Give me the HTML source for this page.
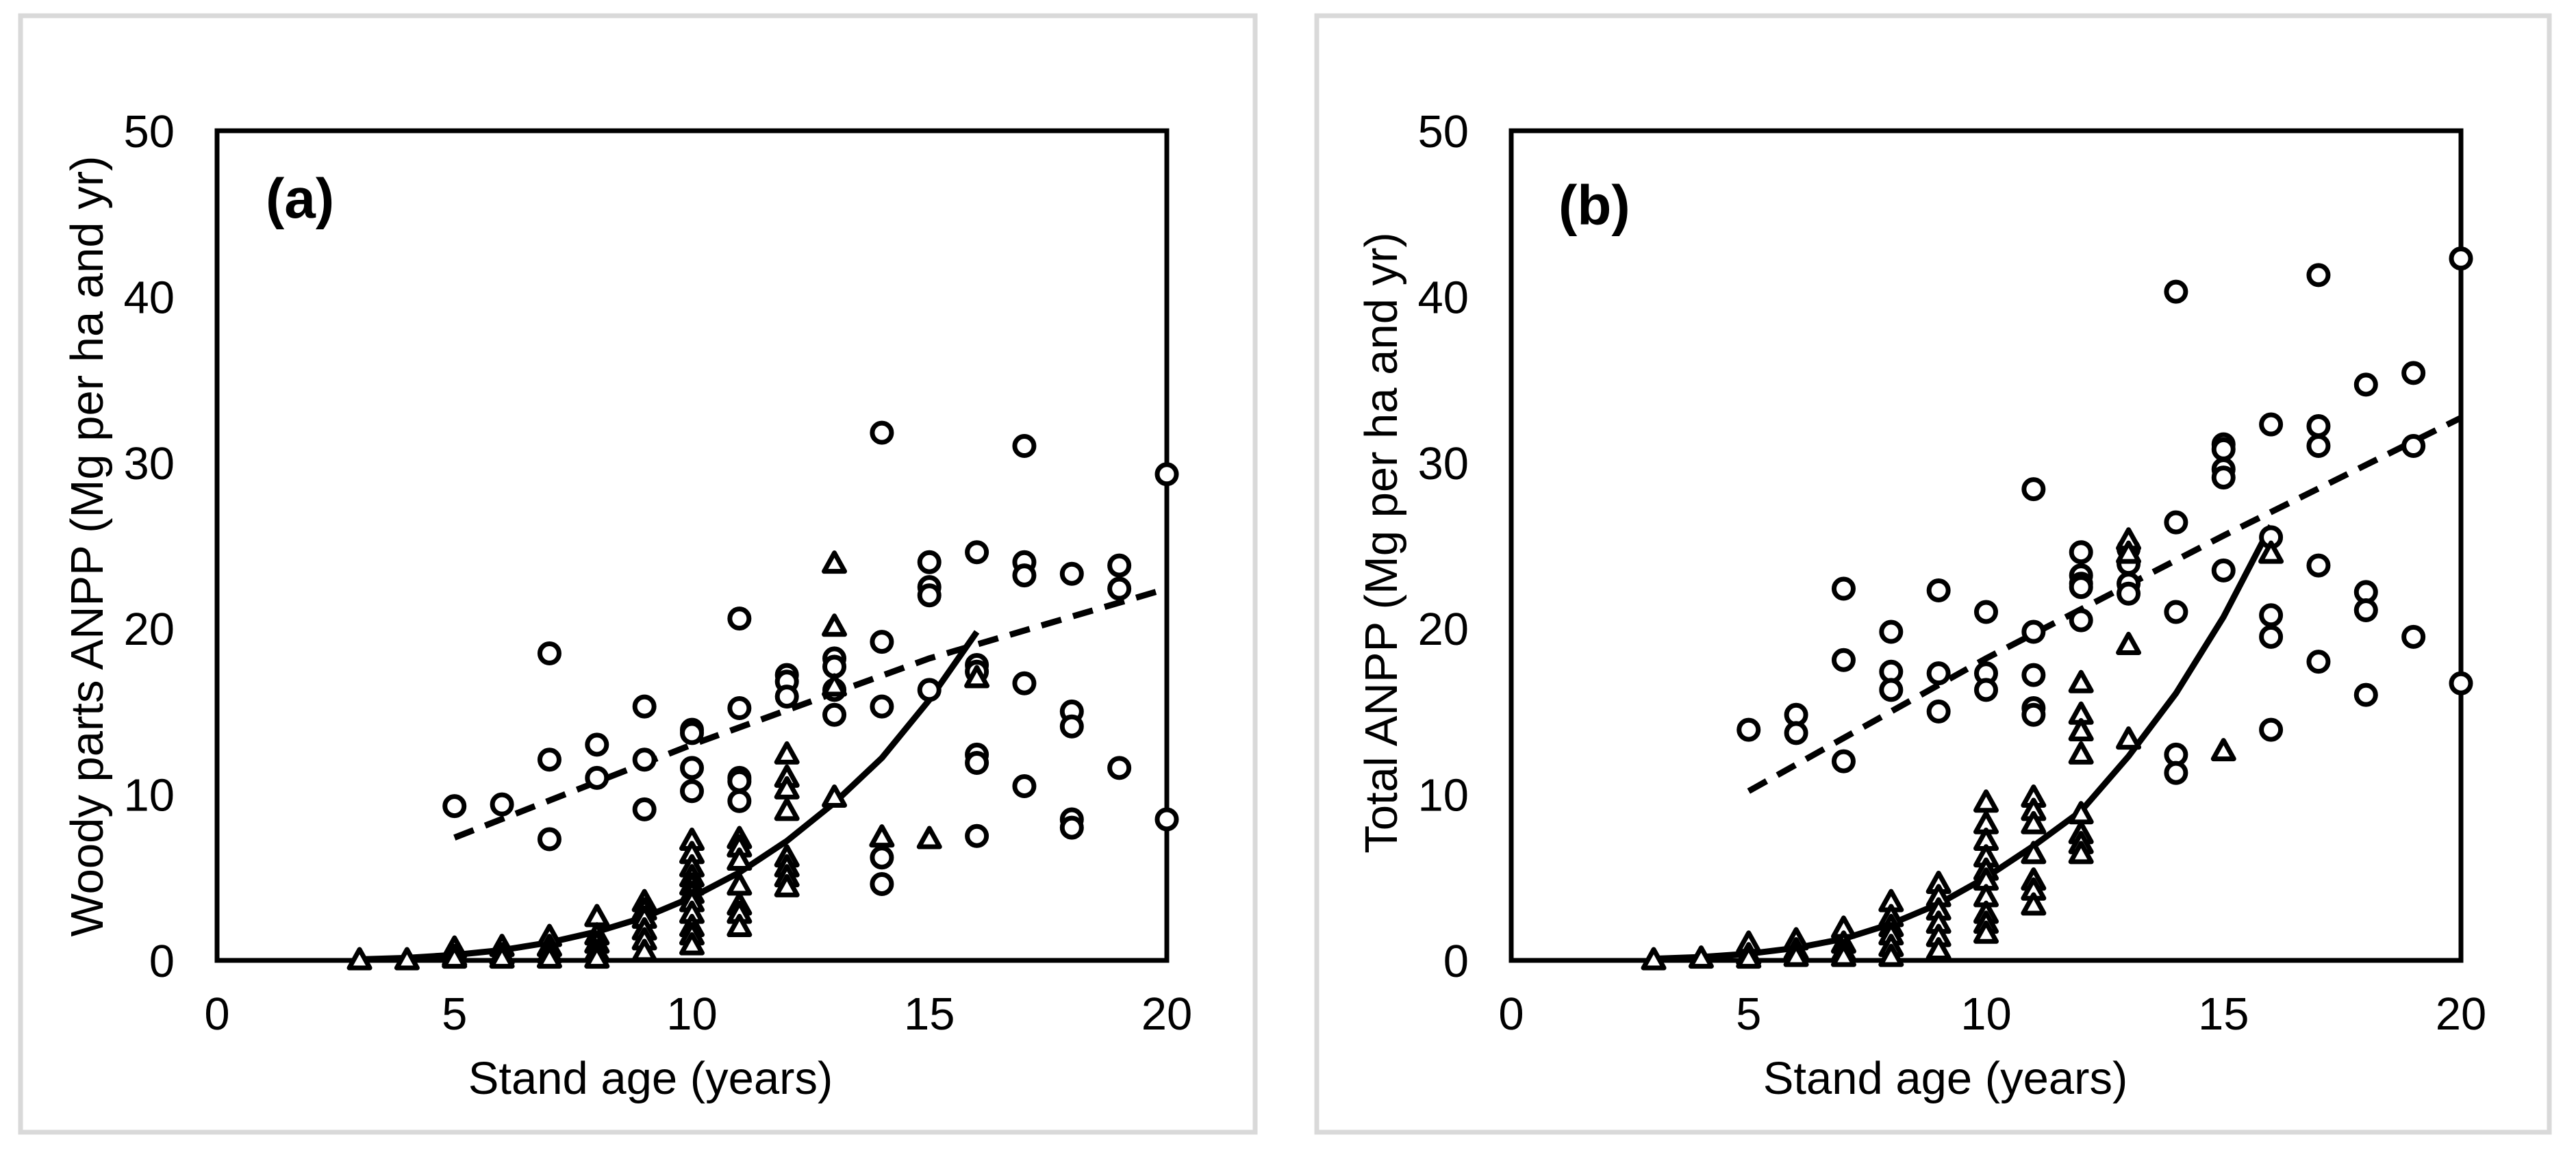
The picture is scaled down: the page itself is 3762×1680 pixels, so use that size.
<!DOCTYPE html>
<html><head><meta charset="utf-8"><style>
html,body{margin:0;padding:0;background:#fff;}
svg{display:block;font-family:"Liberation Sans",Arial,sans-serif;}
</style></head><body>
<svg id="fig" width="3762" height="1680" viewBox="0 0 3762 1680">
<rect x="30" y="23" width="1803" height="1631" fill="#fff" stroke="#d9d9d9" stroke-width="7"/>
<rect x="1923" y="23" width="1800" height="1631" fill="#fff" stroke="#d9d9d9" stroke-width="7"/>
<g id="pa"></g>
<g id="pb"></g>
</svg>
<script>
const xTicks = [0,5,10,15,20];
const yTicks = [0,10,20,30,40,50];
const fitX = [3,4,5,6,7,8,9,10,11,12,13,14,15,16];
const dashX = [5,10,15,20];

// Panel A data
const aCircX = [5,6,7,7,7,8,8,9,9,9,10,10,10,10,11,11,11,11,11,12,12,12,13,13,13,13,14,14,14,14,14,15,15,15,15,16,16,16,16,16,16,17,17,17,17,17,18,18,18,18,18,19,19,19,20,20];
const aCircY = [9.3,9.4,18.5,12.1,7.3,13.0,11.0,15.3,12.1,9.1,13.9,13.7,11.6,10.2,20.6,15.2,11.0,10.8,9.6,17.2,16.8,15.9,18.2,17.7,16.3,14.8,31.8,19.2,15.3,6.2,4.6,24.0,22.5,22.0,16.3,24.6,17.8,17.4,12.4,11.9,7.5,31.0,24.0,23.2,16.7,10.5,23.3,15.0,14.1,8.5,8.0,23.8,22.4,11.6,29.3,8.5];
const aTriX = [3,4,5,5,5,6,6,6,7,7,7,7,8,8,8,8,8,9,9,9,9,9,9,10,10,10,10,10,10,10,10,10,10,10,11,11,11,11,11,11,11,12,12,12,12,12,12,12,12,13,13,13,13,14,15,16];
const aTriY = [0,0,0.7,0.2,0.1,0.8,0.3,0.1,1.4,0.8,0.4,0.1,2.6,1.5,1.0,0.5,0.1,3.5,3.0,2.5,1.8,1.2,0.5,7.2,6.4,5.6,5.0,4.5,4.0,3.5,2.8,2.0,1.5,0.9,7.3,6.8,6.0,4.5,3.3,2.8,2.0,12.4,11.0,10.3,9.0,6.2,5.6,5.0,4.4,23.9,20.1,16.5,9.8,7.4,7.3,17.0];
const aFitY = [0.06,0.15,0.33,0.62,1.08,1.73,2.6,3.8,5.3,7.2,9.5,12.2,15.7,19.8];
const aDashY = [7.4,13.0,18.2,22.4];

// Panel B data
const bCircX = [5,6,6,7,7,7,8,8,8,9,9,9,10,10,10,11,11,11,11,11,12,12,12,12,12,13,13,13,13,14,14,14,14,14,15,15,15,15,15,16,16,16,16,16,17,17,17,17,17,18,18,18,18,19,19,19,20,20];
const bCircY = [13.9,14.8,13.7,22.4,18.1,12.0,19.8,17.4,16.3,22.3,17.3,15.0,21.0,17.3,16.3,28.4,19.8,17.2,15.2,14.8,24.6,23.2,22.7,22.5,20.5,24.8,23.9,22.7,22.1,40.3,26.4,21.0,12.4,11.3,31.1,30.8,29.6,29.1,23.5,32.3,25.5,20.8,19.5,13.9,41.3,32.2,31.0,23.8,18.0,34.7,22.2,21.1,16.0,35.4,31.0,19.5,42.3,16.7];
const bTriX = [3,4,5,5,5,6,6,6,7,7,7,7,8,8,8,8,8,8,9,9,9,9,9,9,10,10,10,10,10,10,10,10,10,10,11,11,11,11,11,11,11,12,12,12,12,12,12,12,12,13,13,13,13,15,16];
const bTriY = [0,0.1,1.0,0.3,0.1,1.2,0.6,0.2,1.9,1.0,0.5,0.2,3.5,2.6,2.0,1.5,0.8,0.2,4.6,3.8,3.0,2.2,1.4,0.6,9.5,8.2,7.2,6.2,5.4,4.8,3.8,2.8,2.2,1.6,9.8,9.0,8.2,6.4,4.8,4.2,3.3,16.7,14.8,13.8,12.4,8.8,7.6,7.0,6.4,25.3,24.5,19.0,13.3,12.6,24.5];
const bFitY = [0.1,0.2,0.4,0.75,1.3,2.2,3.4,5.0,6.9,9.0,12.3,16.1,20.7,26.2];
const bDashY = [10.2,18.2,25.6,32.7];

const NS = "http://www.w3.org/2000/svg";
function mk(parent, tag, attrs, text){
  const e = document.createElementNS(NS, tag);
  for (const k in attrs) e.setAttribute(k, attrs[k]);
  if (text !== undefined) e.textContent = text;
  parent.appendChild(e);
  return e;
}

function drawPanel(g, cfg){
  const L = cfg.left, R = cfg.left + 1387, T = 191, B = 1403;
  const sx = v => L + (v / 20) * (R - L);
  const sy = v => B - (v / 50) * (B - T);

  const frame = mk(g, 'rect', {x:L, y:T, width:R-L, height:B-T, fill:'none', stroke:'#000', 'stroke-width':7});
  
  

  xTicks.forEach(t => {
    const tx = mk(g, 'text', {x:sx(t), y:1504, 'font-size':67, 'text-anchor':'middle'}, String(t));
    
    
  });
  yTicks.forEach(t => {
    const ty = mk(g, 'text', {x:L-62, y:sy(t)+24, 'font-size':67, 'text-anchor':'end'}, String(t));
    
    
  });

  const xt = mk(g, 'text', {x:cfg.xTitleX, y:1598, 'font-size':67, 'text-anchor':'middle'}, 'Stand age (years)');
  
  
  const yt = mk(g, 'text', {x:0, y:0, 'font-size':67, 'text-anchor':'middle', transform:`translate(${cfg.yTitleX},${cfg.yTitleY}) rotate(-90)`}, cfg.yTitle);
  
  
  const pl = mk(g, 'text', {x:cfg.labelX, y:cfg.labelY, 'font-size':82, 'font-weight':'bold'}, cfg.label);
  
  

  const dpts = dashX.map((x,i) => sx(x)+','+sy(cfg.dashY[i])).join(' ');
  const dl = mk(g, 'polyline', {points:dpts, fill:'none', stroke:'#000', 'stroke-width':9, 'stroke-dasharray':'30,18'});
  
  

  const fpts = fitX.map((x,i) => sx(x)+','+sy(cfg.fitY[i])).join(' ');
  const fl = mk(g, 'polyline', {points:fpts, fill:'none', stroke:'#000', 'stroke-width':9, 'stroke-linejoin':'round'});
  
  

  cfg.circX.forEach((x,i) => {
    const c = mk(g, 'circle', {cx:sx(x), cy:sy(cfg.circY[i]), r:14, fill:'#fff', stroke:'#000', 'stroke-width':7});
    
    
  });
  cfg.triX.forEach((x,i) => {
    const cx = sx(x), cy = sy(cfg.triY[i]);
    const p = mk(g, 'polygon', {points:`${cx},${cy-16} ${cx-15},${cy+11} ${cx+15},${cy+11}`, fill:'#fff', stroke:'#000', 'stroke-width':7, 'stroke-linejoin':'round'});
    
    
  });
}

drawPanel(document.getElementById('pa'), {
  left:317, label:'(a)', labelX:388, labelY:318,
  xTitleX:950, yTitleX:150, yTitleY:798,
  yTitle:'Woody parts ANPP (Mg per ha and yr)',
  circX:aCircX, circY:aCircY, triX:aTriX, triY:aTriY, fitY:aFitY, dashY:aDashY
});
drawPanel(document.getElementById('pb'), {
  left:2207, label:'(b)', labelX:2276, labelY:328,
  xTitleX:2841, yTitleX:2040, yTitleY:793,
  yTitle:'Total ANPP (Mg per ha and yr)',
  circX:bCircX, circY:bCircY, triX:bTriX, triY:bTriY, fitY:bFitY, dashY:bDashY
});
</script>
</body></html>
